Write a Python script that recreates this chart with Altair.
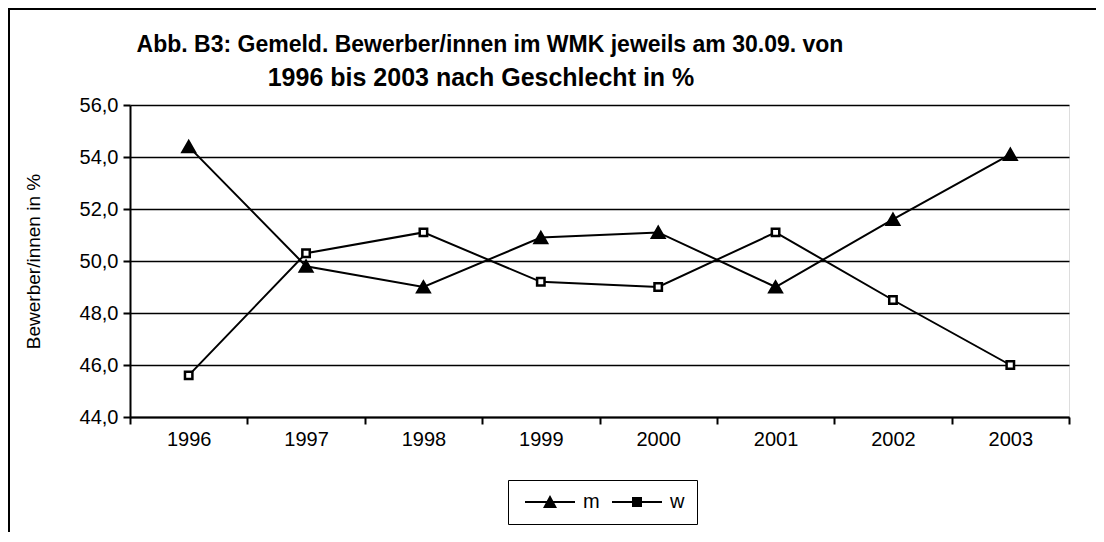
import altair as alt
import pandas as pd

years = ["1996", "1997", "1998", "1999", "2000", "2001", "2002", "2003"]
m_values = [54.4, 49.8, 49.0, 50.9, 51.1, 49.0, 51.6, 54.1]
w_values = [45.6, 50.3, 51.1, 49.2, 49.0, 51.1, 48.5, 46.0]
series_names = ["m", "w"]
y_ticks = [44, 46, 48, 50, 52, 54, 56]
title_line1 = "Abb. B3: Gemeld. Bewerber/innen im WMK jeweils am 30.09. von"
title_line2 = "1996 bis 2003 nach Geschlecht in %"

rows = []
for name, vals in zip(series_names, [m_values, w_values]):
    for yr, v in zip(years, vals):
        rows.append({"Jahr": yr, "Wert": v, "Geschlecht": name})
df = pd.DataFrame(rows)

W, H = 939, 312
FONT = "Liberation Sans"

x_enc = alt.X(
    "Jahr:N",
    sort=years,
    scale=alt.Scale(type="band", paddingInner=0, paddingOuter=0),
    axis=alt.Axis(
        title=None, labelAngle=0, tickBand="extent", tickSize=7, tickWidth=2,
        tickColor="black", domainColor="black", domainWidth=2, labelPadding=5,
        labelFontSize=20, labelFont=FONT, labelColor="black", grid=False,
    ),
)
y_enc = alt.Y(
    "Wert:Q",
    scale=alt.Scale(domain=[44, 56], nice=False, zero=False),
    axis=alt.Axis(
        title="Bewerber/innen in %", values=y_ticks,
        labelExpr="replace(format(datum.value, '.1f'), '.', ',')",
        tickSize=7, tickWidth=2, tickColor="black", domainColor="black", domainWidth=2,
        labelPadding=5, labelFontSize=20, labelFont=FONT, labelColor="black",
        titleFont=FONT, titleFontSize=19, titleFontWeight="normal", titleColor="black",
        titlePadding=36, grid=True, gridColor="black", gridWidth=1.5, gridOpacity=1,
    ),
)

base = alt.Chart(df)

lines = base.mark_line(color="black", strokeWidth=2).encode(
    x=x_enc, y=y_enc, detail="Geschlecht:N"
)

points = base.mark_point(filled=False, opacity=1, strokeWidth=2.5, stroke="black").encode(
    x=x_enc, y=y_enc,
    shape=alt.Shape("Geschlecht:N", scale=alt.Scale(domain=series_names, range=["triangle-up", "square"]), legend=None),
    fill=alt.Fill("Geschlecht:N", scale=alt.Scale(domain=series_names, range=["black", "white"]), legend=None),
    size=alt.Size("Geschlecht:N", scale=alt.Scale(domain=series_names, range=[150, 55]), legend=None),
)

# legend symbols: a line with the marker on it (unit = sqrt(size)/2 = 5px)
legend_paths = [
    "M-1,-0.2H9.0V0.2H-1Z M2.6,1.2L4.0,-1.4L5.4,1.2Z",
    "M-1,-0.2H9.0V0.2H-1Z M3.0,-1H5.0V1H3.0Z",
]
legend_layer = base.mark_point(
    filled=True, fill="black", size=100, opacity=0
).encode(
    x=x_enc, y=y_enc,
    shape=alt.Shape(
        "Geschlecht:N",
        scale=alt.Scale(domain=series_names, range=legend_paths),
        legend=alt.Legend(
            title=None, orient="none", legendX=378, legendY=375, direction="horizontal",
            strokeColor="black", padding=12, symbolSize=100, symbolOpacity=1,
            symbolFillColor="black", symbolStrokeWidth=0,
            labelFont=FONT, labelFontSize=20, labelColor="black", labelOffset=43,
            columnPadding=7,
        ),
    ),
)

one = pd.DataFrame({"a": [0]})
frame_top = alt.Chart(one).mark_rule(color="black", strokeWidth=2).encode(
    x=alt.value(-121), x2=alt.value(W + 100), y=alt.value(-96)
)
frame_left = alt.Chart(one).mark_rule(color="black", strokeWidth=2).encode(
    x=alt.value(-121), y=alt.value(-97), y2=alt.value(H + 250)
)

title1 = alt.Chart(one).mark_text(
    font=FONT, fontSize=23, fontWeight="bold", color="black",
    align="center", baseline="alphabetic",
).encode(text=alt.value(title_line1), x=alt.value(360), y=alt.value(-53))
title2 = alt.Chart(one).mark_text(
    font=FONT, fontSize=25, fontWeight="bold", color="black",
    align="center", baseline="alphabetic",
).encode(text=alt.value(title_line2), x=alt.value(351), y=alt.value(-19))

chart = alt.layer(frame_top, frame_left, title1, title2, lines, points, legend_layer).resolve_scale(
    shape="independent", fill="independent", size="independent"
).properties(
    width=W, height=H,
    autosize=alt.AutoSizeParams(type="none"),
    padding={"left": 122, "top": 97, "right": 27, "bottom": 115},
).configure_view(
    fill="#eaeaea", stroke=None
).configure(background="white")

chart.save("out.html", embed_options={"renderer": "svg", "actions": False})
